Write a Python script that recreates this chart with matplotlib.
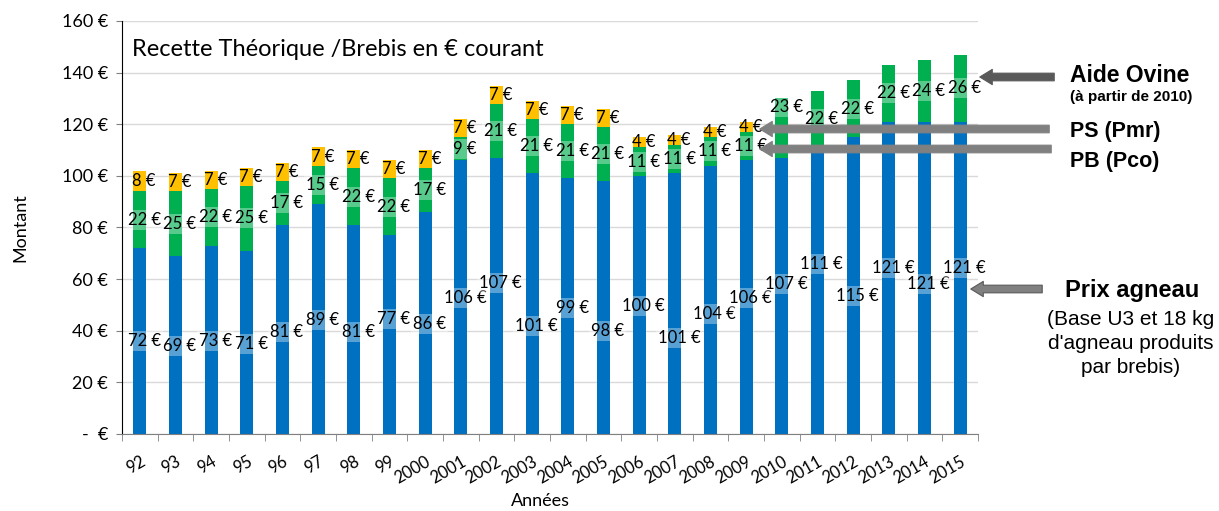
import matplotlib.pyplot as plt
import numpy as np

# data
years = ["92", "93", "94", "95", "96", "97", "98", "99", "2000", "2001", "2002",
         "2003", "2004", "2005", "2006", "2007", "2008", "2009", "2010", "2011",
         "2012", "2013", "2014", "2015"]
prix_agneau = [72, 69, 73, 71, 81, 89, 81, 77, 86, 106, 107, 101, 99, 98, 100,
               101, 104, 106, 107, 111, 115, 121, 121, 121]
# PB (Pco) until 2009, then Aide Ovine from 2010
pb_aide = [22, 25, 22, 25, 17, 15, 22, 22, 17, 9, 21, 21, 21, 21, 11, 11, 11,
           11, 23, 22, 22, 22, 24, 26]
ps_pmr = [8, 7, 7, 7, 7, 7, 7, 7, 7, 7, 7, 7, 7, 7, 4, 4, 4, 4, 0, 0, 0, 0, 0, 0]
yticks = [0, 20, 40, 60, 80, 100, 120, 140, 160]

# the price labels were moved by hand in the source, keep their heights
price_label_y = [36, 34, 36, 35, 39.5, 44, 39.5, 44.5, 42.5, 52.5, 58.5, 42,
                 49, 40, 49.5, 37, 46.5, 52.5, 58, 66, 53.5, 64.5, 58, 64.5]

BLUE = "#0070C0"
GREEN = "#00B050"
YELLOW = "#FFC000"

plt.rcParams["font.family"] = ["Lato", "DejaVu Sans"]

W, H = 1219, 511
fig = plt.figure(figsize=(W / 100, H / 100), dpi=100)
ax = fig.add_axes([122 / W, 1 - 434 / H, (978 - 122) / W, (434 - 21) / H])

x = np.arange(len(years))
blue = np.array(prix_agneau)
green = np.array(pb_aide)
yellow = np.array(ps_pmr)
bw = 0.37

ax.bar(x, blue, width=bw, color=BLUE, zorder=2)
ax.bar(x, green, width=bw, bottom=blue, color=GREEN, zorder=2)
ax.bar(x, yellow, width=bw, bottom=blue + green, color=YELLOW, zorder=2)

box = dict(boxstyle="square,pad=0.12", fc="white", ec="none", alpha=0.35)
dx = 0.12
for i in range(len(years)):
    ax.text(x[i] + dx, price_label_y[i], f"{blue[i]} €", ha="center",
            va="center", fontsize=12, bbox=box, zorder=3)
    gy = blue[i] + green[i] / 2
    if years[i] == "2010":
        gy += 8
    ax.text(x[i] + dx, gy, f"{green[i]} €", ha="center",
            va="center", fontsize=12, bbox=box, zorder=3)
    if yellow[i] > 0:
        ax.text(x[i] + dx, blue[i] + green[i] + yellow[i] / 2, f"{yellow[i]} €",
                ha="center", va="center", fontsize=12, zorder=3)

ax.set_xlim(-0.5, len(years) - 0.5)
ax.set_ylim(0, 160)
ax.set_yticks(yticks)
ax.set_yticklabels([f"{v} €" if v else "-  €" for v in yticks], fontsize=13)
ax.yaxis.grid(True, color="#D9D9D9", linewidth=1, zorder=0)
ax.tick_params(axis="y", length=4, color="#808080", pad=6)

ax.set_xticks(x)
ax.set_xticklabels(years, rotation=30, ha="right", rotation_mode="anchor",
                   fontsize=12)
ax.set_xticks(np.arange(len(years) + 1) - 0.5, minor=True)
ax.tick_params(axis="x", which="major", length=0, pad=14)
ax.tick_params(axis="x", which="minor", length=5, color="#808080")

for s in ["top", "right"]:
    ax.spines[s].set_visible(False)
ax.spines["left"].set_color("black")
ax.spines["bottom"].set_color("#808080")

ax.set_ylabel("Montant", fontsize=13, labelpad=24)
ax.text(540 / W, 1 - 501 / H, "Années", transform=fig.transFigure, ha="center",
        va="center", fontsize=13)
ax.text(0.012, 0.93, "Recette Théorique /Brebis en € courant",
        transform=ax.transAxes, fontsize=17, ha="left", va="center")


# annotations on the right, in image pixel coordinates
def fig_arrow(x0, x1, y, fc, ec):
    ax.annotate("", xy=(x1, H - y), xycoords="figure pixels",
                xytext=(x0, H - y), textcoords="figure pixels",
                arrowprops=dict(arrowstyle="simple,head_width=1.1,head_length=0.9,tail_width=0.55",
                                fc=fc, ec=ec, lw=0.8, mutation_scale=10),
                annotation_clip=False)


def fig_text(px, py, s, **kw):
    fig.text(px / W, 1 - py / H, s, family=["Liberation Sans", "DejaVu Sans"],
             va="center", **kw)


fig_arrow(1057, 977, 77, "#595959", "#595959")
fig_arrow(1052, 757, 129, "#808080", "#808080")
fig_arrow(1054, 757, 149, "#808080", "#808080")
fig_arrow(1045, 968, 289, "#808080", "#595959")

fig_text(1130, 76, "Aide Ovine", fontsize=16.5, weight="bold", ha="center")
fig_text(1131, 97, "(à partir de 2010)", fontsize=11, weight="bold", ha="center")
fig_text(1070, 131, "PS (Pmr)", fontsize=15.5, weight="bold", ha="left")
fig_text(1070, 161, "PB (Pco)", fontsize=15.5, weight="bold", ha="left")
fig_text(1132, 290, "Prix agneau", fontsize=17, weight="bold", ha="center")
fig_text(1131, 319, "(Base U3 et 18 kg", fontsize=15, ha="center")
fig_text(1131, 343, "d'agneau produits", fontsize=15, ha="center")
fig_text(1131, 367, "par brebis)", fontsize=15, ha="center")

fig.savefig("out.png", dpi=100)
